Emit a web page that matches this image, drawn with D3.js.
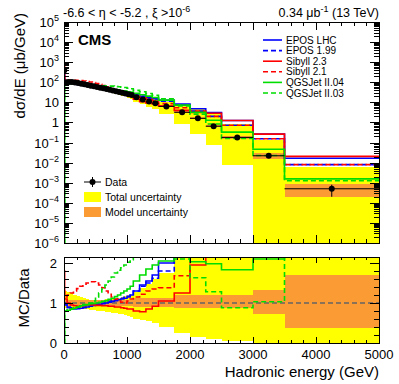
<!DOCTYPE html>
<html><head><meta charset="utf-8">
<script src="https://cdn.jsdelivr.net/npm/d3@7"></script>
<style>
body{margin:0;background:#fff}
text{font-family:"Liberation Sans",Arial,sans-serif;fill:#000}
</style>
</head><body><div id="chart"></div>
<script>
// bin edges in GeV
const binEdges = [0, 10, 50, 100, 150, 200, 250, 300, 350, 400, 450, 500, 550, 600, 650, 700, 750, 800, 850, 900, 950, 1000, 1050, 1100,
  1200, 1300, 1400, 1500, 1750, 2000, 2250, 2500, 3000, 3500, 5000];
// measured dsigma/dE (ub/GeV)
const dataValues = [400, 100, 104, 102, 97, 91, 85, 79, 73, 68, 63, 58, 54, 50, 46, 42, 39, 36, 33, 30, 28, 25, 23,
  18, 14, 11, 9, 6.3, 3.2, 1.6, 0.65, 0.18, 0.022, 0.0005];
const statErr = [0, 0, 0, 0, 0, 0, 0, 0, 0, 0, 0, 0, 0, 0, 0, 0, 0, 0, 0, 0, 0, 0, 0,
  0.05, 0.05, 0.05, 0.05, 0.05, 0.08, 0.1, 0.12, 0.15, 0.2, 0.6];
// uncertainty bands, relative to data
const totalUp = [1.3, 1.3, 1.27, 1.24, 1.2, 1.17, 1.14, 1.12, 1.1, 1.08, 1.07, 1.07, 1.07, 1.08, 1.09, 1.1, 1.11, 1.12, 1.13, 1.15, 1.17, 1.19, 1.21,
  1.28, 1.37, 1.48, 1.6, 1.75, 2.6, 3, 4, 4.4, 6, 12];
const totalDown = [0.9, 0.88, 0.88, 0.87, 0.87, 0.86, 0.85, 0.85, 0.84, 0.83, 0.82, 0.81, 0.8, 0.79, 0.78, 0.77, 0.76, 0.75, 0.73, 0.72, 0.7, 0.68, 0.66,
  0.6, 0.57, 0.55, 0.5, 0.4, 0.25, 0.16, 0.11, 0.044, 0, 0];
const modelUp = [1.08, 1.08, 1.08, 1.08, 1.08, 1.08, 1.08, 1.08, 1.08, 1.08, 1.08, 1.08, 1.08, 1.08, 1.08, 1.08, 1.08, 1.08, 1.08, 1.08, 1.08, 1.08, 1.08,
  1.12, 1.12, 1.12, 1.12, 1.12, 1.2, 1.2, 1.2, 1.2, 1.33, 1.7];
const modelDown = [0.93, 0.93, 0.93, 0.93, 0.93, 0.93, 0.93, 0.93, 0.93, 0.93, 0.93, 0.93, 0.93, 0.93, 0.93, 0.93, 0.93, 0.93, 0.93, 0.93, 0.93, 0.93, 0.93,
  0.9, 0.9, 0.9, 0.9, 0.9, 0.88, 0.88, 0.88, 0.88, 0.73, 0.375];
// MC / Data ratios
const eposLHC = [1.0, 0.95, 0.88, 0.86, 0.85, 0.86, 0.87, 0.88, 0.9, 0.92, 0.94, 0.95, 0.96, 0.98, 1.0, 1.02, 1.04, 1.06, 1.08, 1.1, 1.12, 1.15, 1.2,
  1.3, 1.45, 1.55, 1.7, 2.0, 2.6, 3.0, 4.8, 7, 12, 33];
const epos199 = [1.0, 0.97, 0.9, 0.88, 0.87, 0.88, 0.89, 0.9, 0.92, 0.94, 0.96, 0.97, 0.98, 1.0, 1.02, 1.04, 1.06, 1.08, 1.1, 1.12, 1.14, 1.17, 1.22,
  1.3, 1.42, 1.5, 1.62, 1.8, 2.3, 2.3, 3.1, 4, 7, 16];
const sibyll23 = [1.8, 1.1, 1.0, 0.95, 0.93, 0.92, 0.93, 0.94, 0.95, 0.95, 0.95, 0.94, 0.94, 0.93, 0.93, 0.92, 0.92, 0.9, 0.9, 0.88, 0.87, 0.85, 0.85,
  0.8, 0.78, 0.85, 0.92, 1.05, 1.25, 1.95, 4.4, 7, 12, 41];
const sibyll21 = [1.3, 1.15, 1.2, 1.25, 1.3, 1.36, 1.42, 1.47, 1.5, 1.53, 1.53, 1.5, 1.45, 1.38, 1.3, 1.22, 1.15, 1.1, 1.05, 1.02, 1.0, 1.05, 1.1,
  1.15, 1.22, 1.3, 1.35, 1.38, 1.68, 2.3, 3.1, 4, 7, 16];
const qgsjet04 = [0, 0.8, 0.82, 0.85, 0.87, 0.9, 0.93, 0.95, 0.96, 0.98, 0.99, 1.0, 1.02, 1.04, 1.06, 1.09, 1.12, 1.16, 1.2, 1.25, 1.3, 1.35, 1.42,
  1.55, 1.7, 1.85, 1.95, 2.05, 2.3, 2.03, 1.98, 1.83, 2.1, 3.1];
const qgsjet03 = [0, 0.8, 0.83, 0.85, 0.88, 0.9, 0.93, 0.96, 0.98, 1.0, 1.05, 1.15, 1.25, 1.35, 1.45, 1.55, 1.65, 1.75, 1.82, 1.88, 1.95, 2.02, 2.08,
  2.2, 2.4, 2.5, 2.5, 2.4, 2.1, 1.63, 1.28, 0.88, 1.03, 2.5];

const models = [
  {name: "EPOS LHC", r: eposLHC, color: "#0000ff", dash: null},
  {name: "EPOS 1.99", r: epos199, color: "#0000ff", dash: "5,3"},
  {name: "Sibyll 2.3", r: sibyll23, color: "#ff0000", dash: null},
  {name: "Sibyll 2.1", r: sibyll21, color: "#ff0000", dash: "5,3"},
  {name: "QGSJet II.04", r: qgsjet04, color: "#00dd00", dash: null},
  {name: "QGSJet II.03", r: qgsjet03, color: "#00dd00", dash: "5,3"}
];

const W = 399, H = 384;
const L = 64, R = 379, T1 = 22, B1 = 243, T2 = 257, B2 = 343;
const yellow = "#ffff00", orange = "#fb9b34";

const svg = d3.select("#chart").append("svg").attr("width", W).attr("height", H);

const x = d3.scaleLinear().domain([0, 5000]).range([L, R]);
const y1 = d3.scaleLog().domain([1e-6, 1e5]).range([B1, T1]).clamp(true);
const y2 = d3.scaleLinear().domain([0, 2.15]).range([B2, T2]);

let defs = svg.append("defs");
defs.append("clipPath").attr("id", "c1").append("rect").attr("x", L).attr("y", T1).attr("width", R - L).attr("height", B1 - T1);
defs.append("clipPath").attr("id", "c2").append("rect").attr("x", L).attr("y", T2).attr("width", R - L).attr("height", B2 - T2);

let bins = dataValues.map(function (v, i) { return {i: i, lo: binEdges[i], hi: binEdges[i + 1], v: v}; });

function stepPts(vals) {
  let p = [];
  vals.forEach(function (v, i) { p.push([binEdges[i], v]); p.push([binEdges[i + 1], v]); });
  return p;
}

// ---------- top panel ----------
let g1 = svg.append("g").attr("clip-path", "url(#c1)");
g1.selectAll(".tot").data(bins).enter().append("rect")
  .attr("x", d => x(d.lo)).attr("width", d => x(d.hi) - x(d.lo))
  .attr("y", d => y1(d.v * totalUp[d.i]))
  .attr("height", d => y1(d.v * totalDown[d.i]) - y1(d.v * totalUp[d.i]))
  .attr("fill", yellow).attr("shape-rendering", "crispEdges");
g1.selectAll(".mod").data(bins).enter().append("rect")
  .attr("x", d => x(d.lo)).attr("width", d => x(d.hi) - x(d.lo))
  .attr("y", d => y1(d.v * modelUp[d.i]))
  .attr("height", d => y1(d.v * modelDown[d.i]) - y1(d.v * modelUp[d.i]))
  .attr("fill", orange).attr("shape-rendering", "crispEdges");

let line1 = d3.line().x(d => x(d[0])).y(d => y1(d[1]));
models.forEach(function (m) {
  g1.append("path").attr("d", line1(stepPts(dataValues.map((v, i) => v * m.r[i]))))
    .attr("fill", "none").attr("stroke", m.color).attr("stroke-width", 1.6)
    .attr("stroke-dasharray", m.dash);
});

// data points
g1.selectAll(".hbar").data(bins).enter().append("line")
  .attr("x1", d => x(d.lo)).attr("x2", d => x(d.hi))
  .attr("y1", d => y1(d.v)).attr("y2", d => y1(d.v))
  .attr("stroke", "#000").attr("stroke-width", 1);
g1.selectAll(".vbar").data(bins).enter().append("line")
  .attr("x1", d => x((d.lo + d.hi) / 2)).attr("x2", d => x((d.lo + d.hi) / 2))
  .attr("y1", d => y1(d.v * (1 + statErr[d.i]))).attr("y2", d => y1(d.v * (1 - statErr[d.i])))
  .attr("stroke", "#000").attr("stroke-width", 1);
g1.selectAll(".pt").data(bins).enter().append("circle")
  .attr("cx", d => x((d.lo + d.hi) / 2)).attr("cy", d => y1(d.v)).attr("r", 3)
  .attr("fill", "#000");

// ---------- bottom panel ----------
let g2 = svg.append("g").attr("clip-path", "url(#c2)");
g2.selectAll(".tot").data(bins).enter().append("rect")
  .attr("x", d => x(d.lo)).attr("width", d => x(d.hi) - x(d.lo))
  .attr("y", d => y2(totalUp[d.i]))
  .attr("height", d => y2(totalDown[d.i]) - y2(totalUp[d.i]))
  .attr("fill", yellow).attr("shape-rendering", "crispEdges");
g2.selectAll(".mod").data(bins).enter().append("rect")
  .attr("x", d => x(d.lo)).attr("width", d => x(d.hi) - x(d.lo))
  .attr("y", d => y2(modelUp[d.i]))
  .attr("height", d => y2(modelDown[d.i]) - y2(modelUp[d.i]))
  .attr("fill", orange).attr("shape-rendering", "crispEdges");
g2.append("line").attr("x1", L).attr("x2", R).attr("y1", y2(1)).attr("y2", y2(1))
  .attr("stroke", "#666").attr("stroke-width", 1.5).attr("stroke-dasharray", "5,3");
let line2 = d3.line().x(d => x(d[0])).y(d => y2(d[1]));
models.forEach(function (m) {
  g2.append("path").attr("d", line2(stepPts(m.r)))
    .attr("fill", "none").attr("stroke", m.color).attr("stroke-width", 1.6)
    .attr("stroke-dasharray", m.dash);
});

// ---------- frames and ticks ----------
let axes = svg.append("g").attr("stroke", "#000").attr("stroke-width", 1).attr("shape-rendering", "crispEdges");
axes.append("rect").attr("x", L).attr("y", T1).attr("width", R - L).attr("height", B1 - T1).attr("fill", "none");
axes.append("rect").attr("x", L).attr("y", T2).attr("width", R - L).attr("height", B2 - T2).attr("fill", "none");

function tick(x1, y1_, x2, y2_) {
  axes.append("line").attr("x1", x1).attr("y1", y1_).attr("x2", x2).attr("y2", y2_);
}
// x ticks on both panels
d3.range(0, 5001, 200).forEach(function (e) {
  let major = e % 1000 === 0;
  let xx = Math.round(x(e)) + 0.5;
  tick(xx, B1, xx, B1 - (major ? 8 : 4));
  tick(xx, T1, xx, T1 + (major ? 8 : 4));
  tick(xx, B2, xx, B2 - (major ? 6 : 3));
  tick(xx, T2, xx, T2 + (major ? 6 : 3));
});
// log y ticks
d3.range(-6, 6).forEach(function (k) {
  for (let m = 1; m < 10; m++) {
    let v = m * Math.pow(10, k);
    if (v > 1e5) break;
    let yy = Math.round(y1(v)) + 0.5;
    let len = m === 1 ? 9 : 5;
    tick(L, yy, L + len, yy);
    tick(R, yy, R - len, yy);
  }
});
// ratio y ticks
d3.range(0, 2.11, 0.2).forEach(function (v) {
  let major = Math.abs(v - Math.round(v)) < 1e-6;
  let yy = Math.round(y2(v)) + 0.5;
  tick(L, yy, L + (major ? 9 : 5), yy);
  tick(R, yy, R - (major ? 9 : 5), yy);
});

// ---------- labels ----------
let yLab = svg.append("g").attr("font-size", 13);
d3.range(-6, 6).forEach(function (k) {
  let t = yLab.append("text").attr("x", 59).attr("y", y1(Math.pow(10, k)) + 5).attr("text-anchor", "end");
  if (k === 0) t.text("1");
  else if (k === 1) t.text("10");
  else {
    t.append("tspan").text("10");
    t.append("tspan").attr("dy", -6).attr("font-size", 9).text(k < 0 ? "\u2212" + (-k) : k);
  }
});
[0, 1, 2].forEach(function (v) {
  yLab.append("text").attr("x", 57).attr("y", y2(v) + 5).attr("text-anchor", "end").text(v);
});
d3.range(0, 5001, 1000).forEach(function (e) {
  yLab.append("text").attr("x", x(e)).attr("y", 359).attr("text-anchor", "middle").text(e);
});

svg.append("text").attr("x", R).attr("y", 377).attr("text-anchor", "end").attr("font-size", 15)
  .text("Hadronic energy (GeV)");
svg.append("text").attr("transform", "translate(25,13) rotate(-90)").attr("text-anchor", "end").attr("font-size", 15)
  .text("d\u03c3/dE (\u03bcb/GeV)");
svg.append("text").attr("transform", "translate(29,298) rotate(-90)").attr("text-anchor", "middle").attr("font-size", 15)
  .text("MC/Data");

let hl = svg.append("text").attr("x", 63).attr("y", 17).attr("font-size", 12.5);
hl.append("tspan").text("-6.6 < \u03b7 < -5.2 , \u03be >10");
hl.append("tspan").attr("dy", -5).attr("font-size", 9).text("-6");
let hr = svg.append("text").attr("x", R).attr("y", 17).attr("font-size", 12.5).attr("text-anchor", "end");
hr.append("tspan").text("0.34 \u03bcb");
hr.append("tspan").attr("dy", -5).attr("font-size", 9).text("-1");
hr.append("tspan").attr("dy", 5).text(" (13 TeV)");

svg.append("text").attr("x", 78).attr("y", 45).attr("font-size", 15).attr("font-weight", "bold").text("CMS");

// model legend
let leg = svg.append("g");
models.forEach(function (m, i) {
  let yy = 40 + i * 10.6;
  leg.append("line").attr("x1", 263).attr("x2", 282).attr("y1", yy).attr("y2", yy)
    .attr("stroke", m.color).attr("stroke-width", 1.6).attr("stroke-dasharray", m.dash);
  leg.append("text").attr("x", 286).attr("y", yy + 3.5).attr("font-size", 10).text(m.name);
});

// data legend
let leg2 = svg.append("g");
leg2.append("line").attr("x1", 84).attr("x2", 101).attr("y1", 182).attr("y2", 182).attr("stroke", "#000");
leg2.append("line").attr("x1", 92.5).attr("x2", 92.5).attr("y1", 177).attr("y2", 187).attr("stroke", "#000");
leg2.append("circle").attr("cx", 92.5).attr("cy", 182).attr("r", 3).attr("fill", "#000");
leg2.append("text").attr("x", 105).attr("y", 186).attr("font-size", 10.5).text("Data");
leg2.append("rect").attr("x", 84).attr("y", 192).attr("width", 17).attr("height", 10).attr("fill", yellow);
leg2.append("text").attr("x", 105).attr("y", 201).attr("font-size", 10.5).text("Total uncertainty");
leg2.append("rect").attr("x", 84).attr("y", 207).attr("width", 17).attr("height", 10).attr("fill", orange);
leg2.append("text").attr("x", 105).attr("y", 216).attr("font-size", 10.5).text("Model uncertainty");
</script>
</body></html>
